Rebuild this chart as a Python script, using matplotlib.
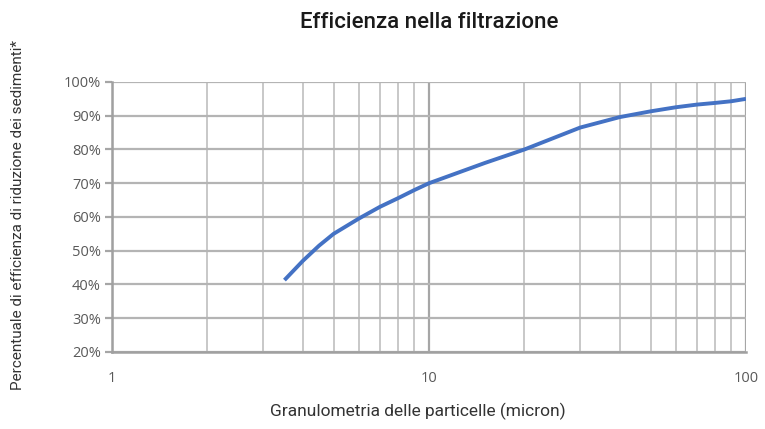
import matplotlib.pyplot as plt
from matplotlib.ticker import FixedLocator, NullFormatter

# particle size (micron) vs filtration efficiency (%)
micron = [3.5, 4, 4.5, 5, 6, 7, 8, 9, 10, 15, 20, 30, 40, 50, 60, 70, 80, 90, 100]
efficiency = [41.3, 47, 51.5, 55, 59.5, 63, 65.6, 68, 70, 76, 80, 86.5, 89.6, 91.3, 92.5, 93.3, 93.8, 94.3, 95]

y_ticks = [20, 30, 40, 50, 60, 70, 80, 90, 100]
x_ticks = [1, 10, 100]

fig = plt.figure(figsize=(7.65, 4.29), dpi=100)
ax = fig.add_axes([0.1464, 0.1795, 0.8287, 0.6294])

ax.plot(micron, efficiency, color="#4472C4", linewidth=2.8, solid_capstyle="butt", zorder=3)

ax.set_xscale("log")
ax.set_xlim(1, 100)
ax.set_ylim(20, 100)

ax.xaxis.set_major_locator(FixedLocator(x_ticks))
ax.xaxis.set_minor_locator(FixedLocator([k * d for d in (1, 10) for k in range(2, 10)]))
ax.xaxis.set_minor_formatter(NullFormatter())
ax.set_xticklabels([str(t) for t in x_ticks])
ax.set_yticks(y_ticks)
ax.set_yticklabels([f"{t}%" for t in y_ticks])

ax.grid(which="major", axis="x", color="#A6A6A6", linewidth=1.6)
ax.grid(which="minor", axis="x", color="#C8C8C8", linewidth=1.4)
ax.grid(which="major", axis="y", color="#B4B4B4", linewidth=1.6)

for side in ("top", "right"):
    ax.spines[side].set_visible(False)
for side in ("left", "bottom"):
    ax.spines[side].set_color("#A0A0A0")
    ax.spines[side].set_linewidth(1.8)

ax.tick_params(axis="y", length=5, width=1.6, color="#A6A6A6", labelsize=10.5,
               labelcolor="#595959", pad=3)
ax.tick_params(axis="x", which="both", length=0, labelsize=10.5, labelcolor="#595959", pad=14)
for lbl in ax.get_xticklabels() + ax.get_yticklabels():
    lbl.set_family("Open Sans")

fig.text(0.561, 0.948, "Efficienza nella filtrazione", ha="center", va="center",
         fontsize=16, family="Roboto", weight="medium", color="#1a1a1a")
fig.text(0.546, 0.04, "Granulometria delle particelle (micron)", ha="center", va="center",
         fontsize=12.5, family="Roboto", color="#333333")
fig.text(0.024, 0.50, "Percentuale di efficienza di riduzione dei sedimenti*", ha="center",
         va="center", rotation=90, fontsize=11, family="Roboto", color="#333333")

fig.savefig("out.png", dpi=100)
